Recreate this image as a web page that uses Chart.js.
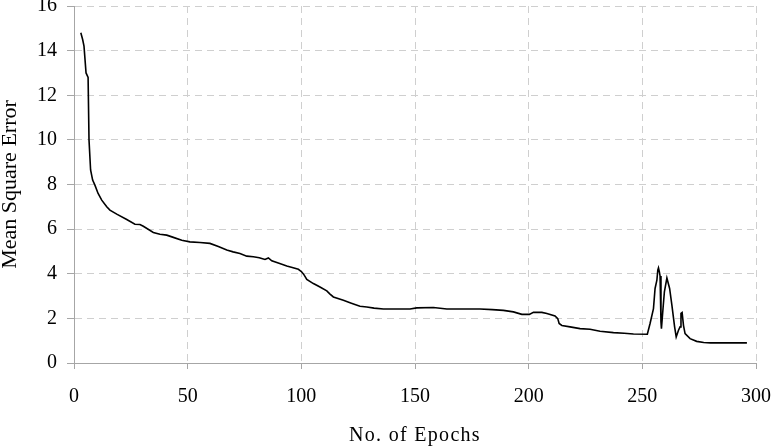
<!DOCTYPE html>
<html>
<head>
<meta charset="utf-8">
<script src="https://cdn.jsdelivr.net/npm/chart.js@4/dist/chart.umd.min.js"></script>
<style>
  body { margin: 0; background: #fff; }
  canvas { display: block; }
</style>
</head>
<body>
<canvas id="mseChart" width="772" height="448"></canvas>
<script>
// training curve
const epochs = [3, 3.8, 4.4, 5.3, 6.2, 6.6, 7.3, 8.2, 9.2, 10.6, 12.2, 14.4, 15.8, 18.8, 23.2, 26.8, 29, 30.5,
  34.9, 37.8, 40.8, 43.7, 47.4, 51, 55.4, 59.8, 63.5, 67.2, 70, 73, 76, 78.9, 81.5, 84, 85.5, 87, 90.5, 93.6,
  96, 98.7, 100.2, 101.2, 102.4, 105.3, 108, 111.2, 112.5, 114.1, 118.5, 122, 125.8, 128.8, 132, 136.1, 142,
  147.8, 150.8, 158.1, 164, 170, 178.6, 184, 188.9, 193.3, 197, 200.3, 202.1, 205.8, 208, 211.6, 212.8, 213.4,
  214.6, 218.2, 222.6, 227, 231.4, 237.3, 242, 246.1, 252.2, 253.4, 254.9, 255.6, 256.4, 256.8, 257.1, 257.5,
  257.8, 258.2, 258.4, 259.1, 259.7, 260.8, 262, 263, 264.2, 264.9, 265.9, 266.6, 267, 267.5, 268.1, 268.8,
  271, 273.9, 277, 280, 296];
const mse = [14.8, 14.5, 14.2, 13.0, 12.8, 10.0, 8.65, 8.2, 7.97, 7.6, 7.3, 7.0, 6.85, 6.67, 6.43, 6.22, 6.21, 6.13,
  5.85, 5.77, 5.73, 5.63, 5.5, 5.43, 5.4, 5.36, 5.22, 5.06, 4.98, 4.91, 4.79, 4.76, 4.72, 4.64, 4.71, 4.58, 4.46, 4.35,
  4.28, 4.2, 4.08, 3.95, 3.75, 3.56, 3.42, 3.23, 3.1, 2.96, 2.81, 2.68, 2.54, 2.51, 2.46, 2.42, 2.42,
  2.42, 2.47, 2.49, 2.42, 2.42, 2.42, 2.39, 2.36, 2.29, 2.18, 2.18, 2.27, 2.27, 2.22, 2.11, 1.99, 1.77,
  1.68, 1.62, 1.54, 1.51, 1.42, 1.36, 1.33, 1.3, 1.29, 1.77, 2.44, 3.34, 3.71, 4.16, 4.26, 4.08,
  3.9, 1.84, 1.54, 2.44, 3.19, 3.81, 3.34, 2.59, 1.62, 1.17, 1.47, 1.62, 2.22, 2.26, 1.69, 1.32,
  1.09, 0.97, 0.92, 0.9, 0.9];
const xTicks = [0, 50, 100, 150, 200, 250, 300];
const yTicks = [0, 2, 4, 6, 8, 10, 12, 14, 16];

const serif = 'Liberation Serif';
const gridColor = '#cfcfcf';
const axisColor = '#a6a6a6';

// the x title in the figure is letter-spaced, canvas can do that
const spacedTitle = {
  id: 'spacedTitle',
  afterLayout(chart) {
    const scale = chart.scales.x;
    if (scale._spaced) return;
    const orig = scale.drawTitle.bind(scale);
    scale.drawTitle = function () {
      const c = this.ctx;
      c.save();
      c.letterSpacing = '1.3px';
      orig();
      c.restore();
    };
    scale._spaced = true;
  }
};

const ctx = document.getElementById('mseChart').getContext('2d');
new Chart(ctx, {
  type: 'line',
  data: {
    datasets: [{
      data: epochs.map((e, i) => ({ x: e, y: mse[i] })),
      borderColor: '#000',
      borderWidth: 1.6,
      pointRadius: 0,
      tension: 0,
      fill: false
    }]
  },
  options: {
    responsive: false,
    animation: false,
    layout: { padding: { top: 6, right: 16, left: 0, bottom: 0 } },
    plugins: { legend: { display: false }, tooltip: { enabled: false } },
    scales: {
      x: {
        type: 'linear',
        min: 0,
        max: 300,
        afterBuildTicks: (s) => { s.ticks = xTicks.map(v => ({ value: v })); },
        afterFit: (s) => { s.height = 85; s.paddingLeft = 0; s.paddingRight = 0; },
        grid: { color: gridColor, tickColor: axisColor, tickLength: 6, tickBorderDash: [] },
        border: { color: axisColor, width: 1, dash: [7, 5] },
        ticks: { color: '#000', padding: 16, font: { family: serif, size: 20 }, maxRotation: 0 },
        title: {
          display: true,
          text: 'No. of Epochs',
          color: '#000',
          font: { family: serif, size: 20 },
          padding: { top: 0, bottom: 0 }
        }
      },
      y: {
        min: 0,
        max: 16,
        afterBuildTicks: (s) => { s.ticks = yTicks.map(v => ({ value: v })); },
        afterFit: (s) => { s.width = 74; s.paddingTop = 0; s.paddingBottom = 0; },
        grid: { color: gridColor, tickColor: axisColor, tickLength: 7, tickBorderDash: [] },
        border: { color: axisColor, width: 1, dash: [7, 5] },
        ticks: { color: '#000', padding: 10, font: { family: serif, size: 20 } },
        title: {
          display: true,
          text: 'Mean Square Error',
          color: '#000',
          font: { family: serif, size: 22 },
          padding: { top: -3, bottom: 0 }
        }
      }
    }
  },
  plugins: [spacedTitle]
});
</script>
</body>
</html>
